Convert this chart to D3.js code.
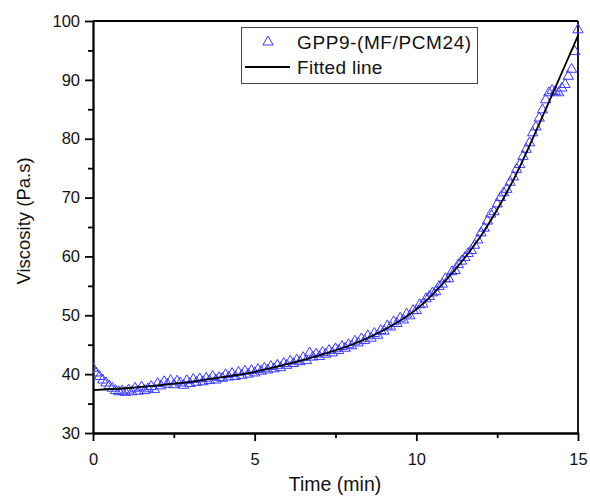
<!DOCTYPE html>
<html><head><meta charset="utf-8">
<script src="https://cdn.jsdelivr.net/npm/d3@7"></script>
<style>body{margin:0;background:#fff}svg{display:block}</style>
</head><body>
<script>
// Data
const times = d3.range(0, 151).map(i => +(i / 10).toFixed(1));
const viscosity = [
 41.0, 40.2, 39.6, 39.0, 38.5, 38.0, 37.6, 37.2, 37.0, 37.1,
 36.9, 37.3, 37.0, 37.6, 37.1, 37.8, 37.2, 37.5, 37.9, 37.4,
 38.4, 38.0, 38.7, 38.3, 38.9, 38.2, 38.8, 38.5, 38.1, 38.9,
 38.4, 39.1, 38.6, 39.2, 38.7, 39.3, 38.9, 39.6, 39.0, 39.4,
 39.3, 39.9, 39.5, 40.1, 39.6, 40.3, 39.8, 40.5, 40.0, 40.6,
 40.2, 40.8, 40.5, 41.0, 40.7, 41.3, 40.9, 41.5, 41.1, 41.8,
 41.5, 42.2, 41.8, 42.4, 42.1, 42.8, 42.3, 43.6, 42.9, 43.4,
 43.0, 43.7, 43.4, 44.0, 43.6, 44.3, 44.0, 44.7, 44.4, 45.0,
 44.8, 45.6, 45.3, 46.0, 45.7, 46.5, 46.1, 46.9, 46.6, 47.4,
 47.3, 48.2, 48.0, 48.9, 48.6, 49.5, 49.2, 50.2, 49.9, 50.8,
 50.8, 51.8, 51.9, 52.8, 53.2, 53.8, 54.0, 54.9, 55.3, 56.2,
 56.2, 57.4, 57.6, 58.6, 59.2, 59.8, 60.5, 61.0, 61.9, 62.8,
 64.0, 64.8, 66.0, 67.2, 67.6, 68.9, 70.0, 70.8, 71.4, 72.6,
 73.5, 74.8, 75.6, 77.0, 78.2, 79.3, 81.0, 82.0, 83.5, 84.9,
 86.6, 87.8, 88.2, 88.0, 87.8, 88.6, 89.2, 90.6, 91.8, 94.8,
 98.5
];
const fitTimes = [0,1,2,3,4,5,6,7,8,9,10,11,12,13,14,15];
const fitValues = [37.3,37.6,38.1,38.7,39.5,40.4,41.7,43.2,45.0,47.5,51.0,56.5,63.5,73.0,85.0,97.5];
const xTicks = [0,5,10,15];
const yTicks = [30,40,50,60,70,80,90,100];
const seriesName = "GPP9-(MF/PCM24)";
const fitName = "Fitted line";

const W = 590, H = 496;
const m = {left: 93, right: 12, top: 21, bottom: 63};
const svg = d3.select("body").append("svg").attr("width", W).attr("height", H);
const x = d3.scaleLinear().domain([0, 15]).range([m.left, W - m.right]);
const y = d3.scaleLinear().domain([30, 100]).range([H - m.bottom, m.top]);
const font = "'Liberation Sans', Arial, sans-serif";

svg.append("defs").append("clipPath").attr("id","clip").append("rect")
  .attr("x", x(0)).attr("y", y(100)-6).attr("width", x(15)-x(0)+6).attr("height", y(30)-y(100)+6);

// frame top/right
svg.append("line").attr("x1", x(0)).attr("x2", x(15)).attr("y1", y(100)).attr("y2", y(100)).attr("stroke","#000").attr("stroke-width",1.8);
svg.append("line").attr("x1", x(15)).attr("x2", x(15)).attr("y1", y(100)).attr("y2", y(30)).attr("stroke","#000").attr("stroke-width",1.8);

// axes
const xAxis = svg.append("g").attr("transform", `translate(0,${y(30)})`)
  .call(d3.axisBottom(x).tickValues(xTicks).tickFormat(d3.format("d")).tickSize(8).tickSizeOuter(0));
const xMinor = svg.append("g").attr("transform", `translate(0,${y(30)})`)
  .call(d3.axisBottom(x).tickValues([2.5,7.5,12.5]).tickFormat("").tickSize(5).tickSizeOuter(0));
const yAxis = svg.append("g").attr("transform", `translate(${x(0)},0)`)
  .call(d3.axisLeft(y).tickValues(yTicks).tickFormat(d3.format("d")).tickSize(8).tickSizeOuter(0));
const yMinor = svg.append("g").attr("transform", `translate(${x(0)},0)`)
  .call(d3.axisLeft(y).tickValues([35,45,55,65,75,85,95]).tickFormat("").tickSize(5).tickSizeOuter(0));
[xAxis, xMinor, yAxis, yMinor].forEach(g => {
  g.selectAll("path,line").attr("stroke","#000").attr("stroke-width",1.8);
  g.selectAll("text").attr("font-family", font).attr("font-size", 16.5).attr("fill","#111");
});
xAxis.selectAll("text").attr("dy", "1.25em");
yAxis.selectAll("text").attr("dx", "-0.12em");

// data triangles
const tri = d3.symbol().type(d3.symbolTriangle).size(46);
svg.append("g").attr("clip-path","url(#clip)").selectAll("path").data(times.map((t,i)=>[t, viscosity[i]]))
  .join("path").attr("d", tri)
  .attr("transform", d => `translate(${x(d[0])},${y(d[1])})`)
  .attr("fill","none").attr("stroke","#3a3aff").attr("stroke-width",1);

// fitted line
svg.append("path").datum(fitTimes.map((t,i)=>[t, fitValues[i]]))
  .attr("d", d3.line().x(d=>x(d[0])).y(d=>y(d[1])).curve(d3.curveCatmullRom.alpha(0.5)))
  .attr("fill","none").attr("stroke","#000").attr("stroke-width",1.8);

// titles
svg.append("text").attr("x", 335).attr("y", 491).attr("text-anchor","middle")
  .attr("font-family", font).attr("font-size", 19.5).attr("fill","#111").text("Time (min)");
svg.append("text").attr("transform","translate(30,221) rotate(-90)").attr("text-anchor","middle")
  .attr("font-family", font).attr("font-size", 18.5).attr("fill","#111").text("Viscosity (Pa.s)");

// legend
const lg = svg.append("g");
lg.append("rect").attr("x", 241.5).attr("y", 27.5).attr("width", 236).attr("height", 56)
  .attr("fill","#fff").attr("stroke","#444").attr("stroke-width",1);
lg.append("path").attr("d", tri).attr("transform","translate(268,42)")
  .attr("fill","none").attr("stroke","#3a3aff").attr("stroke-width",1);
lg.append("line").attr("x1",245).attr("x2",290).attr("y1",67).attr("y2",67).attr("stroke","#000").attr("stroke-width",1.8);
lg.append("text").attr("x",297).attr("y",49).attr("font-family",font).attr("font-size",19).attr("letter-spacing",0.6).attr("fill","#111").text(seriesName);
lg.append("text").attr("x",297).attr("y",74).attr("font-family",font).attr("font-size",19).attr("letter-spacing",0.3).attr("fill","#111").text(fitName);
</script>
</body></html>
